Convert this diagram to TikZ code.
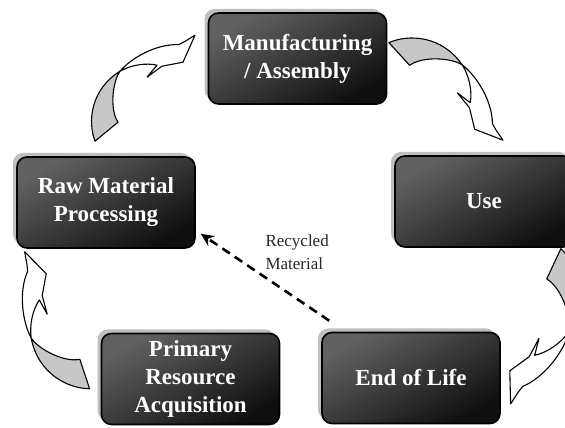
\documentclass[tikz,border=0pt]{standalone}
\usepackage{fontspec}
\setmainfont{Liberation Serif}
\usepackage{tikz}
\usetikzlibrary{shadows,arrows.meta}
\NewDocumentCommand{\stagetext}{}{\fontsize{23}{28}\selectfont\bfseries}
\NewDocumentCommand{\notetext}{}{\fontsize{17}{23}\selectfont}
\tikzset{/LCA/stage/.style={
	rounded corners=10pt, draw=black, line width=1.6pt,
	minimum width=178pt, minimum height=91pt, inner sep=0pt,
	drop shadow={shadow xshift=-4pt, shadow yshift=4pt, fill=black!25, opacity=1},
	top color=black!62, bottom color=black!94, shading angle=30,
	text=white, align=center, font=\stagetext
}}
\tikzset{/LCA/recycle/.style={
	line width=2.6pt, dash pattern=on 9pt off 6pt, -{Stealth[length=13pt,width=12pt]}
}}
\tikzset{/LCA/twist/back/.style={fill=black!22, draw=black, line width=1.1pt, line join=round}}
\tikzset{/LCA/twist/front/.style={fill=white, draw=black, line width=1.1pt, line join=round}}
\tikzset{pics/twistarrow/.style={code={
	\path[/LCA/twist/back] (-11.5,-9.5) .. controls (-19,10) and (-16,42) .. (13.5,60.5)
		.. controls (6,50) and (3,22) .. (11.5,9.5) -- cycle;
	\path[/LCA/twist/front] (13.5,60.5) .. controls (25,74) and (50,88) .. (72,87)
		-- (78,90) -- (88.5,96.5) -- (76.5,69.5) -- (55.5,65.5) -- (40.5,54.5)
		-- (50.5,66.5) .. controls (40,69) and (25,67) .. (13.5,60.5) -- cycle;
}}}

\begin{document}
\begin{tikzpicture}[x=1pt, y=1pt]
	\clip (0,0) rectangle (565,428);
	% stages of the cycle
	\path (297.5,369.5) node[/LCA/stage] (manuf) {Manufacturing\\/ Assembly};
	\path (manuf.center) ++ (-191.5,-144) node[/LCA/stage] (raw) {Raw Material\\Processing};
	\path (manuf.center) ++ (186.5,-143) node[/LCA/stage] (use) {Use};
	\path (manuf.center) ++ (-107,-320.5) node[/LCA/stage] (prim) {Primary\\Resource\\Acquisition};
	\path (manuf.center) ++ (113.5,-319.5) node[/LCA/stage] (eol) {End of Life};
	% recycling shortcut
	\path (manuf.center) ++ (-35.5,-193.5) node[anchor=west, align=left, font=\notetext, text=black!85] (recyc) {Recycled\\Material};
	\coordinate (recfrom) at ([shift={(8,11)}]eol.north west);
	\coordinate (recto) at ([shift={(5,15)}]raw.south east);
	\draw[/LCA/recycle] (recfrom) -- (recto);
	% curved arrows between stages
	\pic[rotate=0] at ([shift={(0.5,24.5)}]raw.north) {twistarrow};
	\pic[rotate=-87.2, scale=1.03] at ([shift={(12,4.5)}]manuf.east) {twistarrow};
	\pic[rotate=-154.6, scale=1.12] at ([shift={(-20,-16)}]use.south east) {twistarrow};
	\pic[rotate=68.7, scale=1.04] at ([shift={(-16,5)}]prim.west) {twistarrow};
\end{tikzpicture}
\end{document}
